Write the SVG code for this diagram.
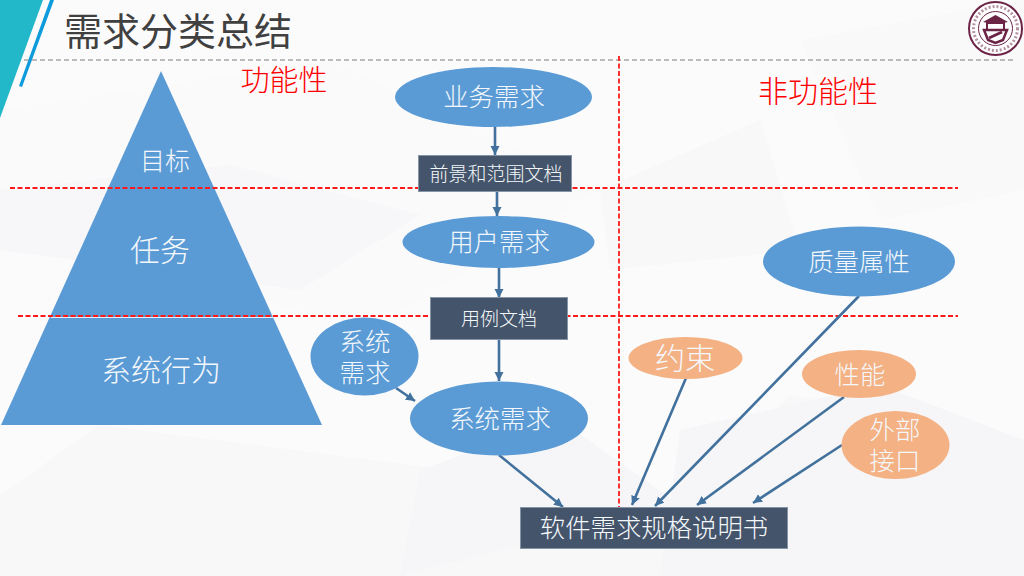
<svg xmlns="http://www.w3.org/2000/svg" width="1024" height="576" viewBox="0 0 1024 576">
<style>
text{font-family:"Noto Sans CJK SC","Noto Sans",sans-serif;font-weight:300;text-anchor:middle;fill:#f4f8fc}
.blue{fill:#5b9bd5}.orange{fill:#f4b183}.dark{fill:#44546a;stroke:#8794a5;stroke-width:1}
.red{stroke:#ff1a1a;stroke-width:1.8;stroke-dasharray:5 2.5;fill:none}
.conn{stroke:#41719c;stroke-width:2.6;fill:none;marker-end:url(#arr)}
</style>
<defs>
<marker id="arr" markerUnits="userSpaceOnUse" markerWidth="12" markerHeight="10" refX="9" refY="4.500" orient="auto"><path d="M0 0L9 4.500L0 9Z" fill="#41719c"/></marker>
</defs>
<g id="background">
<rect width="1024" height="576" fill="#fbfbfc"/>
<path d="M0 110L330 60L600 190L370 330L0 230Z" fill="#fafafb"/>
<path d="M0 495L100 425L450 470L680 505L790 395L1024 440V576H0Z" fill="#f8f8f9"/>
<path d="M680 430L880 385L1024 440V576H660Z" fill="#f6f6f8"/>
<path d="M800 40L1024 0V190L880 220Z" fill="#f9f9fa"/>
<path d="M0 190L230 165L420 215L300 290L0 250Z" fill="#f7f7f9"/>
<path d="M600 190L760 120L800 250L610 270Z" fill="#f8f8f9"/>
<path d="M420 470L560 420L680 505L400 576Z" fill="#f6f6f8"/>
<path d="M0 0H43L0 118Z" fill="#22b8c9"/>
<path d="M50 0H54L22 87L19 86Z" fill="#0e9bdc"/>
</g>
<g id="title">
<text x="178" y="45" font-size="38" style="fill:#404040;font-weight:400">需求分类总结</text>
<line x1="24" y1="60" x2="1014" y2="60" stroke="#7f7f7f" stroke-width="1.200" stroke-dasharray="5 3"/>
</g>
<g id="logo" fill="none" stroke="#6b2346">
<circle cx="995.500" cy="28.500" r="26.500" fill="#fff" stroke-width="2"/>
<circle cx="995.500" cy="28.500" r="17" stroke-width="1"/>
<circle cx="995.500" cy="28.500" r="22" stroke-width="3" stroke-dasharray="2 2" opacity=".5"/>
<path d="M983 22L995.500 15L1008 22L1003 23H988Z" fill="#6b2346" stroke="none"/>
<rect x="987" y="23" width="17" height="7" stroke-width="2"/>
<path d="M984 30H1007L1003 40L995.500 43L988 40Z" stroke-width="2.500"/>
<path d="M989 38L1002 32" stroke-width="3"/>
</g>
<g id="pyramid">
<path class="blue" d="M161 71L322 425H1Z"/>
<line x1="51" y1="317.500" x2="273" y2="317.500" stroke="#e8f0f8" stroke-width="1.200"/>
<text x="165" y="170" font-size="25">目标</text>
<text x="160" y="261" font-size="30">任务</text>
<text x="161" y="381" font-size="30">系统行为</text>
</g>
<g id="guides">
<line class="red" x1="10" y1="188" x2="958" y2="188"/>
<line class="red" x1="18" y1="316" x2="958" y2="316"/>
<line class="red" x1="619" y1="56" x2="619" y2="507"/>
<text x="284" y="91" font-size="29" style="fill:#ff0000">功能性</text>
<text x="818" y="102" font-size="30" style="fill:#ff0000">非功能性</text>
</g>
<g id="connectors">
<line class="conn" x1="495" y1="121" x2="495" y2="155"/>
<line class="conn" x1="497" y1="192" x2="497" y2="216"/>
<line class="conn" x1="499" y1="262" x2="499" y2="298"/>
<line class="conn" x1="499" y1="340" x2="499" y2="381"/>
<line class="conn" x1="396" y1="388" x2="415" y2="401"/>
<line class="conn" x1="499" y1="455" x2="563" y2="507"/>
<line class="conn" x1="686" y1="378" x2="632" y2="505"/>
<line class="conn" x1="859" y1="296" x2="655" y2="506"/>
<line class="conn" x1="844" y1="397" x2="697" y2="505"/>
<line class="conn" x1="842" y1="445" x2="753" y2="503"/>
</g>
<g id="n-biz"><ellipse class="blue" cx="493.500" cy="97" rx="98.500" ry="30"/><text x="494" y="106" font-size="25.400">业务需求</text></g>
<g id="n-scope"><rect class="dark" x="418.500" y="155.500" width="153" height="36"/><text x="496" y="181" font-size="19">前景和范围文档</text></g>
<g id="n-user"><ellipse class="blue" cx="498.500" cy="242" rx="96" ry="26"/><text x="499" y="251" font-size="25.400">用户需求</text></g>
<g id="n-usecase"><rect class="dark" x="430.500" y="297.500" width="137" height="42"/><text x="499" y="326" font-size="19">用例文档</text></g>
<g id="n-sys-small"><ellipse class="blue" cx="364.500" cy="356.500" rx="54" ry="39"/><text font-size="25.400"><tspan x="365" y="351">系统</tspan><tspan x="365" y="382">需求</tspan></text></g>
<g id="n-sys"><ellipse class="blue" cx="499" cy="418.500" rx="89" ry="37"/><text x="500" y="428" font-size="25.400">系统需求</text></g>
<g id="n-quality"><ellipse class="blue" cx="859" cy="261.500" rx="96" ry="35"/><text x="859" y="271" font-size="25.400">质量属性</text></g>
<g id="n-constraint"><ellipse class="orange" cx="685.500" cy="358" rx="57" ry="21"/><text x="685" y="369" font-size="30">约束</text></g>
<g id="n-perf"><ellipse class="orange" cx="859" cy="374" rx="57" ry="24"/><text x="860" y="384" font-size="25.400">性能</text></g>
<g id="n-iface"><ellipse class="orange" cx="895.500" cy="445" rx="54" ry="34"/><text font-size="25.400"><tspan x="895" y="439">外部</tspan><tspan x="895" y="470">接口</tspan></text></g>
<g id="n-srs"><rect class="dark" x="520.500" y="507.500" width="267" height="41"/><text x="654" y="537" font-size="25.400">软件需求规格说明书</text></g>
</svg>
